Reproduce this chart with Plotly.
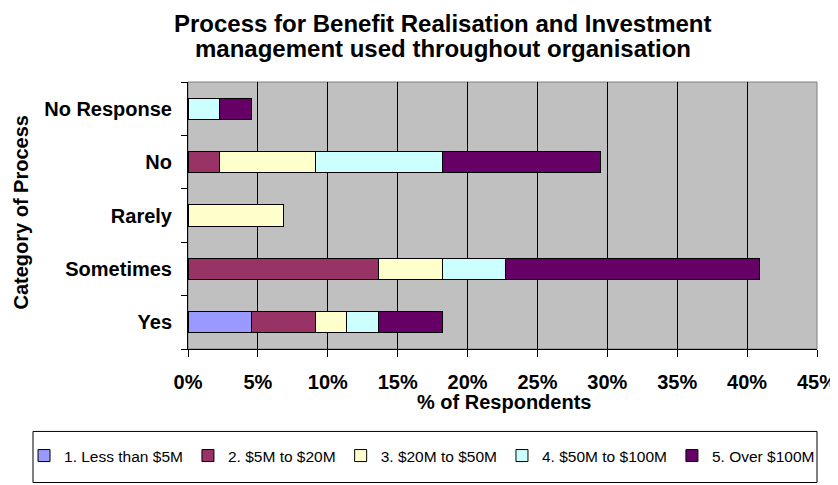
import plotly.graph_objects as go

# Survey categories (bottom to top) and share of respondents per band
categories = ["Yes", "Sometimes", "Rarely", "No", "No Response"]
series_names = [
    "1. Less than $5M",
    "2. $5M to $20M",
    "3. $20M to $50M",
    "4. $50M to $100M",
    "5. Over $100M",
]
less_than_5m = [0.0455, None, None, None, None]
from_5m_to_20m = [0.0455, 0.1364, None, 0.0227, None]
from_20m_to_50m = [0.0227, 0.0455, 0.0682, 0.0682, None]
from_50m_to_100m = [0.0227, 0.0455, None, 0.0909, 0.0227]
over_100m = [0.0455, 0.1818, None, 0.1136, 0.0227]
x_ticks = [0, 0.05, 0.10, 0.15, 0.20, 0.25, 0.30, 0.35, 0.40, 0.45]

series_values = [less_than_5m, from_5m_to_20m, from_20m_to_50m, from_50m_to_100m, over_100m]
colors = ["#9999FF", "#993366", "#FFFFCC", "#CCFFFF", "#660066"]

FONT = "Liberation Sans, Arial, sans-serif"

fig = go.Figure()
for name, values, color in zip(series_names, series_values, colors):
    fig.add_trace(
        go.Bar(
            y=categories,
            x=values,
            name=name,
            orientation="h",
            marker=dict(color=color, line=dict(color="black", width=1)),
        )
    )

# the page body has an 8px margin, so the figure is 8px smaller than the window
fig.update_layout(
    barmode="stack",
    bargap=0.6,
    width=830,
    height=477,
    margin=dict(l=180, r=21, t=74, b=131),
    paper_bgcolor="white",
    plot_bgcolor="#C0C0C0",
    font=dict(family=FONT, color="black"),
    showlegend=True,
    legend=dict(
        orientation="h",
        xref="paper",
        yref="paper",
        x=-0.2607,
        xanchor="left",
        y=-0.4007,
        yanchor="middle",
        font=dict(size=15.5, family=FONT),
        itemwidth=30,
        traceorder="normal",
        bgcolor="rgba(0,0,0,0)",
    ),
)

fig.update_xaxes(
    range=[0, 0.45],
    tickvals=x_ticks,
    tickformat=".0%",
    ticks="outside",
    ticklen=7,
    tickcolor="black",
    tickfont=dict(size=20, family=FONT, weight="bold"),
    ticklabelstandoff=8,
    showgrid=True,
    gridcolor="black",
    gridwidth=1,
    zeroline=False,
    showline=True,
    linecolor="black",
    linewidth=1,
    automargin=False,
)
fig.update_yaxes(
    type="category",
    categoryorder="array",
    categoryarray=categories,
    tickson="boundaries",
    ticks="outside",
    ticklen=6,
    tickcolor="black",
    tickfont=dict(size=20, family=FONT, weight="bold"),
    ticklabelstandoff=11,
    showgrid=False,
    showline=True,
    linecolor="black",
    linewidth=1,
    automargin=False,
)

# plot area frame (top / right edges are grey in the original)
fig.add_shape(
    type="rect", xref="paper", yref="paper", x0=0, x1=1, y0=0, y1=1,
    line=dict(color="#808080", width=1), layer="below",
)
# legend frame (runs off the bottom edge like the original)
fig.add_shape(
    type="rect", xref="paper", yref="paper", x0=-0.2464, x1=1.0, y0=-0.3088, y1=-0.5,
    line=dict(color="black", width=1),
)

title_font = dict(size=24, family=FONT, weight="bold", color="black")
fig.add_annotation(
    text="Process for Benefit Realisation and Investment",
    xref="paper", yref="paper", x=0.405, y=1.2206,
    xanchor="center", yanchor="middle", showarrow=False, font=title_font,
)
fig.add_annotation(
    text="management used throughout organisation",
    xref="paper", yref="paper", x=0.405, y=1.125,
    xanchor="center", yanchor="middle", showarrow=False, font=title_font,
)
axis_font = dict(size=20, family=FONT, weight="bold", color="black")
fig.add_annotation(
    text="% of Respondents",
    xref="paper", yref="paper", x=0.502, y=-0.1985,
    xanchor="center", yanchor="middle", showarrow=False, font=axis_font,
)
fig.add_annotation(
    text="Category of Process",
    xref="paper", yref="paper", x=-0.2655, y=0.511, textangle=-90,
    xanchor="center", yanchor="middle", showarrow=False, font=axis_font,
)

fig.write_html("out.html")
